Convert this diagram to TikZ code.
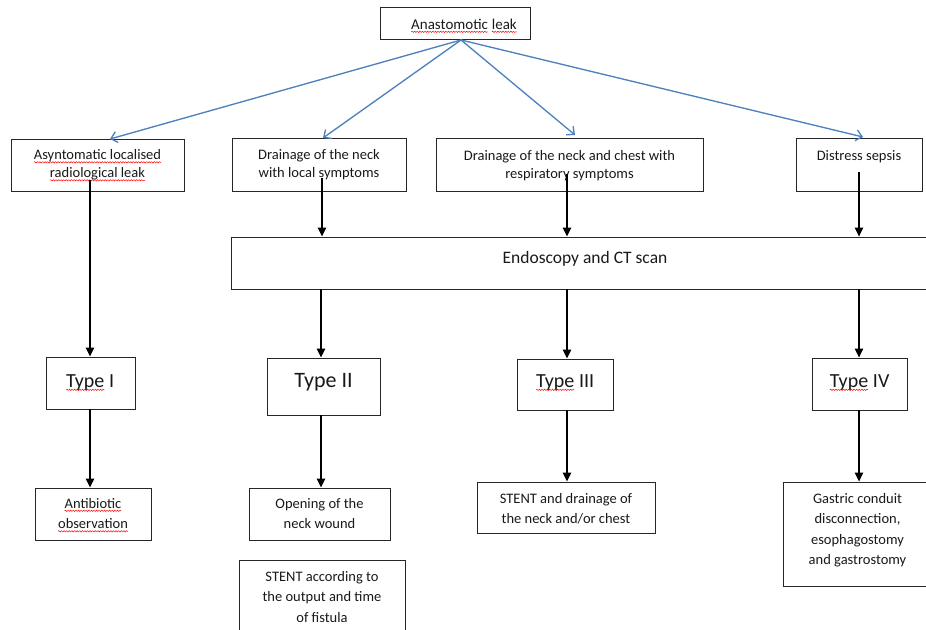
\documentclass[tikz,border=0pt]{standalone}
\usepackage{fontspec}
\setmainfont{Carlito}
\usetikzlibrary{arrows.meta,calc,decorations.pathmorphing}
\definecolor{leakblue}{RGB}{79,129,189}
\newcommand\redwave[1]{\tikz[baseline=(w.base)]{\node[anchor=base, inner sep=0pt, outer sep=0pt, text=black!90] (w) {#1};
  \draw[red, line width=0.45pt, decorate, decoration={snake, amplitude=0.7pt, segment length=2.6pt}] ([yshift=-2.6pt]w.base west) -- ([yshift=-2.6pt]w.base east);}}
\begin{document}
\begin{tikzpicture}[x=1pt,y=-1pt,
  box/.style={draw=black!85, line width=0.9pt, inner sep=0pt},
  lbl/.style={anchor=north, inner sep=0pt, align=center, text=black!90},
  frow/.style={font=\fontsize{14.5}{18}\selectfont},
  flow/.style={font=\fontsize{14.5}{20.5}\selectfont},
  ftype/.style={font=\fontsize{20}{24}\selectfont},
  conn/.style={black, line width=1.4pt, -{Triangle[length=9pt,width=8.5pt]}},
  blu/.style={leakblue, line width=1.35pt, -{Straight Barb[length=6pt,width=11pt]}}]
\useasboundingbox (0,0) rectangle (926,629);
\clip (0,0) rectangle (926,629);

% boxes
\node[box, minimum width=150pt, minimum height=32pt] (leak) at (455,23) {};
\node[box, minimum width=173pt, minimum height=52pt] (b1) at (97.5,165) {};
\node[box, minimum width=174pt, minimum height=53pt] (b2) at (319,164.5) {};
\node[box, minimum width=267pt, minimum height=53pt] (b3) at (569.5,164.5) {};
\node[box, minimum width=126pt, minimum height=53pt] (b4) at (859,164.5) {};
\node[box, minimum width=708pt, minimum height=52pt] (endo) at (585,263) {};
\node[box, minimum width=89pt, minimum height=52pt] (t1) at (90.5,383) {};
\node[box, minimum width=113pt, minimum height=57pt] (t2) at (323.5,386.5) {};
\node[box, minimum width=96pt, minimum height=51pt] (t3) at (565,384.5) {};
\node[box, minimum width=95pt, minimum height=52pt] (t4) at (859.5,384) {};
\node[box, minimum width=116pt, minimum height=52pt] (r1) at (93,514) {};
\node[box, minimum width=141pt, minimum height=52pt] (r2) at (319.5,514) {};
\node[box, minimum width=166pt, minimum height=85pt] (r2b) at (322,602.5) {};
\node[box, minimum width=178pt, minimum height=51pt] (r3) at (566,507.5) {};
\node[box, minimum width=149pt, minimum height=104pt] (r4) at (857.5,534) {};

% texts
\node[lbl, font=\fontsize{15}{18}\selectfont] (leakt) at (464,16.4) {\strut\redwave{Anastomotic} \redwave{leak}};
\node[lbl, frow] (b1t) at (97.5,146.9) {\strut\redwave{Asyntomatic localised}\\\redwave{radiological leak}};
\node[lbl, frow] (b2t) at (319,146.9) {\strut Drainage of the neck\\with local symptoms};
\node[lbl, frow] (b3t) at (569.5,147.4) {\strut Drainage of the neck and chest with\\respiratory symptoms};
\node[lbl, frow] (b4t) at (859,147.4) {\strut Distress sepsis};
\node[lbl, font=\fontsize{17.5}{21}\selectfont] (endot) at (585,248.3) {\strut Endoscopy and CT scan};
\node[lbl, ftype] (t1t) at (90,370.2) {\strut\redwave{Type} I};
\node[lbl, font=\fontsize{22}{26}\selectfont] (t2t) at (323.5,368.8) {\strut Type II};
\node[lbl, ftype] (t3t) at (565,370.2) {\strut\redwave{Type} III};
\node[lbl, ftype] (t4t) at (859.5,370.2) {\strut\redwave{Type} IV};
\node[lbl, flow] (r1t) at (93,493.65) {\strut\redwave{Antibiotic}\\\redwave{observation}};
\node[lbl, flow] (r2t) at (319.5,493.65) {\strut Opening of the\\neck wound};
\node[lbl, flow] (r2bt) at (322,566.65) {\strut STENT according to\\the output and time\\of fistula};
\node[lbl, flow] (r3t) at (566,488.65) {\strut STENT and drainage of\\the neck and/or chest};
\node[lbl, flow] (r4t) at (857.5,488.65) {\strut Gastric conduit\\disconnection,\\esophagostomy\\and gastrostomy};

% blue arrows
\coordinate (src) at (461,40);
\coordinate (e1) at (110,139);
\coordinate (e2) at (323,138);
\coordinate (e3) at (575,135);
\coordinate (e4) at (863,137);
\draw[blu] (src) -- (e1);
\draw[blu] (src) -- (e2);
\draw[blu] (src) -- (e3);
\draw[blu] (src) -- (e4);

% black connectors
\coordinate (s1) at (90,180);
\coordinate (s2) at (322,178);
\coordinate (s3) at (567,174);
\coordinate (s4) at (859,172);
\coordinate (d2) at (321,289);
\draw[conn] (s1) -- (s1 |- t1.north);
\draw[conn] (s2) -- (s2 |- endo.north);
\draw[conn] (s3) -- (s3 |- endo.north);
\draw[conn] (s4) -- (s4 |- endo.north);
\draw[conn] (d2 |- endo.south) -- (d2 |- t2.north);
\draw[conn] (s3 |- endo.south) -- (s3 |- t3.north);
\draw[conn] (s4 |- endo.south) -- (s4 |- t4.north);
\draw[conn] (s1 |- t1.south) -- (s1 |- r1.north);
\draw[conn] (d2 |- t2.south) -- (d2 |- r2.north);
\draw[conn] (s3 |- t3.south) -- (s3 |- r3.north);
\draw[conn] (s4 |- t4.south) -- (s4 |- r4.north);
\end{tikzpicture}
\end{document}
